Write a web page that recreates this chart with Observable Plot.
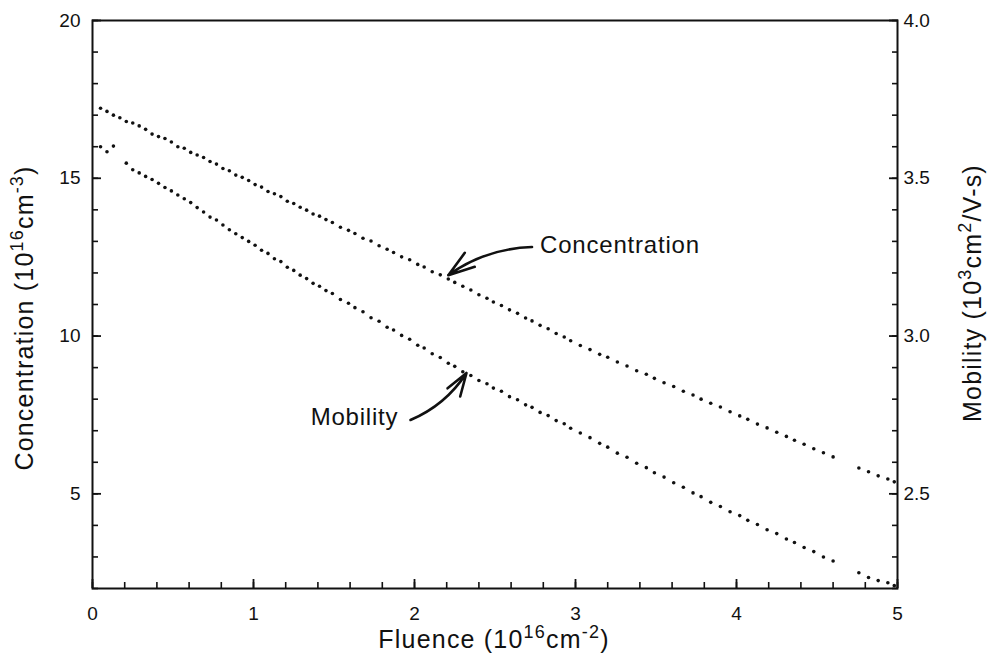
<!DOCTYPE html>
<html><head><meta charset="utf-8">
<script src="https://cdn.jsdelivr.net/npm/d3@7"></script>
<script src="https://cdn.jsdelivr.net/npm/@observablehq/plot@0.6"></script>
<style>
body{margin:0;background:#fff}
svg{font-family:"Liberation Sans",Arial,Helvetica,sans-serif}
</style>
</head><body><div id="chart"></div>
<script>
// Fluence (10^16 cm^-2) of each measurement
const fluence = [0.05,0.09,0.13,0.17,0.21,0.25,0.29,0.33,0.37,0.41,0.45,0.49,0.53,0.57,0.61,0.65,0.69,0.73,0.77,0.81,0.85,0.89,0.93,0.97,1.01,1.05,1.09,1.13,1.17,1.21,1.25,1.29,1.33,1.37,1.41,1.45,
1.49,1.54,1.59,1.63,1.68,1.73,1.78,1.83,1.87,1.92,1.97,2.02,2.06,2.11,2.16,2.21,2.25,2.30,2.35,2.40,2.45,2.49,2.54,2.59,2.64,2.69,2.73,2.78,2.83,2.88,2.93,2.97,
3.03,3.09,3.15,3.20,3.26,3.32,3.38,3.44,3.49,3.55,3.61,3.67,3.73,3.78,3.84,3.90,3.96,4.02,4.07,4.13,4.19,4.25,4.31,4.36,4.42,4.48,4.54,4.60,
4.76,4.82,4.88,4.94,4.98];
// Concentration (10^16 cm^-3), left axis
const concentration = [17.22,17.12,17.00,16.92,16.80,16.75,16.66,16.55,16.40,16.32,16.26,16.15,16.00,15.95,15.82,15.74,
15.66,15.53,15.45,15.31,15.24,15.10,15.03,14.93,14.80,14.72,14.58,14.51,14.42,14.27,14.20,14.08,13.99,13.87,13.80,13.69,
13.60,13.45,13.35,13.25,13.10,13.01,12.86,12.75,12.65,12.51,12.42,12.27,12.19,12.04,11.94,11.81,
11.70,11.58,11.46,11.31,11.20,11.08,10.97,10.83,10.72,10.57,10.48,10.34,10.23,10.08,9.97,9.85,
9.70,9.57,9.42,9.33,9.18,9.05,8.90,8.79,8.66,8.52,8.40,8.25,8.13,8.00,7.87,7.75,7.60,7.47,7.36,7.21,7.09,6.95,6.82,6.70,6.57,6.43,6.30,6.17,
5.82,5.70,5.57,5.47,5.38];
// Mobility (10^3 cm^2/V-s), right axis
const mobility = [3.600,3.584,3.602,null,3.548,3.527,3.517,3.506,3.496,3.484,3.471,3.460,3.447,3.435,3.423,3.407,
3.393,3.377,3.368,3.352,3.337,3.324,3.312,3.300,3.288,3.272,3.262,3.245,3.236,3.218,3.208,3.193,3.182,3.167,3.158,3.144,
3.135,3.116,3.104,3.090,3.077,3.058,3.047,3.028,3.019,3.002,2.990,2.971,2.962,2.944,2.932,2.914,
2.904,2.887,2.875,2.859,2.849,2.835,2.825,2.808,2.798,2.782,2.774,2.758,2.748,2.732,2.722,2.708,
2.693,2.678,2.660,2.648,2.629,2.616,2.597,2.583,2.567,2.553,2.535,2.521,2.503,2.491,2.473,2.460,2.443,2.431,2.416,2.403,2.386,2.374,2.357,2.346,2.330,2.317,2.300,2.287,
2.250,2.235,2.225,2.218,2.209];

const xMajorTicks = [0,1,2,3,4,5];
const xMinorTicks = [0,0.2,0.4,0.6,0.8,1,1.2,1.4,1.6,1.8,2,2.2,2.4,2.6,2.8,3,3.2,3.4,3.6,3.8,4,4.2,4.4,4.6,4.8,5];
const concMajorTicks = [5,10,15,20];
const concMinorTicks = [2,3,4,5,6,7,8,9,10,11,12,13,14,15,16,17,18,19,20];
const mobMajorTicks = [2.5,3.0,3.5,4.0];
const mobMinorTicks = [2.2,2.3,2.4,2.5,2.6,2.7,2.8,2.9,3.0,3.1,3.2,3.3,3.4,3.5,3.6,3.7,3.8,3.9,4.0];

const concDomain = [2,20];
const mobDomain = [2.2,4.0];
// map mobility onto the left (concentration) scale
const toLeft = m => concDomain[0] + (m - mobDomain[0]) * (concDomain[1]-concDomain[0])/(mobDomain[1]-mobDomain[0]);
const toMob = v => mobDomain[0] + (v - concDomain[0]) * (mobDomain[1]-mobDomain[0])/(concDomain[1]-concDomain[0]);

const annotationLabels = ["Concentration","Mobility"];
const annotationX = [2.78, 1.90];
const annotationY = [12.88, 7.44];
const arrowFromX = [2.73, 1.975];
const arrowFromY = [12.82, 7.34];
const arrowToX = [2.21, 2.323];
const arrowToY = [11.93, 8.83];

const concData = fluence.map((f,i)=>({f, v: concentration[i]}));
const mobData = fluence.map((f,i)=>({f, v: mobility[i] == null ? null : toLeft(mobility[i])}));
const arrows = arrowFromX.map((_,i)=>({x1: arrowFromX[i], y1: arrowFromY[i], x2: arrowToX[i], y2: arrowToY[i]}));

const ink = "#111";
const chart = Plot.plot({
  width: 991, height: 661,
  marginLeft: 92, marginRight: 94, marginTop: 20, marginBottom: 73,
  x: {domain: [0,5]},
  y: {domain: concDomain},
  style: {fontFamily: '"Liberation Sans",Arial,Helvetica,sans-serif', fontSize: "19px", color: ink, background: "#fff"},
  marks: [
    Plot.axisX({ticks: xMinorTicks, tickSize: -6, tickFormat: () => "", label: null, strokeWidth: 1.6}),
    Plot.axisX({ticks: xMajorTicks, tickSize: -9, tickPadding: 27, tickFormat: d => String(d), label: null, strokeWidth: 1.8, fontSize: 19}),
    Plot.axisY({anchor: "left", ticks: concMinorTicks, tickSize: -6, tickFormat: () => "", label: null, strokeWidth: 1.6}),
    Plot.axisY({anchor: "left", ticks: concMajorTicks, tickSize: -9, tickPadding: 21, tickFormat: d => String(d), label: null, strokeWidth: 1.8, fontSize: 19}),
    Plot.axisY({anchor: "right", ticks: mobMinorTicks.map(toLeft), tickSize: -6, tickFormat: () => "", label: null, strokeWidth: 1.6}),
    Plot.axisY({anchor: "right", ticks: mobMajorTicks.map(toLeft), tickSize: -9, tickPadding: 15, tickFormat: v => toMob(v).toFixed(1), label: null, strokeWidth: 1.8, fontSize: 19}),
    Plot.frame({stroke: ink, strokeWidth: 2}),
    Plot.dot(concData, {x: "f", y: "v", r: 1.8, fill: ink, stroke: "none"}),
    Plot.dot(mobData, {x: "f", y: "v", r: 1.8, fill: ink, stroke: "none"}),
    Plot.arrow(arrows, {x1: "x1", y1: "y1", x2: "x2", y2: "y2", bend: -17, headLength: 16, headAngle: 36, stroke: ink, strokeWidth: 2.6}),
    Plot.text([0], {x: annotationX[0], y: annotationY[0], text: () => annotationLabels[0], textAnchor: "start", fontSize: 24, fill: ink, lineAnchor: "middle"}),
    Plot.text([1], {x: annotationX[1], y: annotationY[1], text: () => annotationLabels[1], textAnchor: "end", fontSize: 24, fill: ink, lineAnchor: "middle"})
  ]
});
document.getElementById("chart").appendChild(chart);

const svg = d3.select(chart);
svg.selectAll("text").filter(function(){ return annotationLabels.includes(this.textContent); }).style("letter-spacing", "0.8px");

function title(x, y, rot, parts) {
  const t = svg.append("text")
    .attr("transform", `translate(${x},${y}) rotate(${rot})`)
    .attr("text-anchor", "middle")
    .attr("fill", ink)
    .style("font-size", "25px")
    .style("letter-spacing", "1.2px");
  let prevSup = false;
  parts.forEach(([s, sup]) => {
    const ts = t.append("tspan").text(s);
    if (sup && !prevSup) ts.attr("dy", -10).style("font-size", "18px");
    else if (!sup && prevSup) ts.attr("dy", 10);
    prevSup = !!sup;
  });
  return t;
}
title(494, 648, 0, [["Fluence (10"],["16",1],["cm"],["-2",1],[")"]]);
title(33, 318, -90, [["Concentration (10"],["16",1],["cm"],["-3",1],[")"]]);
title(981, 293, -90, [["Mobility (10"],["3",1],["cm"],["2",1],["/V-s)"]]);
</script>
</body></html>
